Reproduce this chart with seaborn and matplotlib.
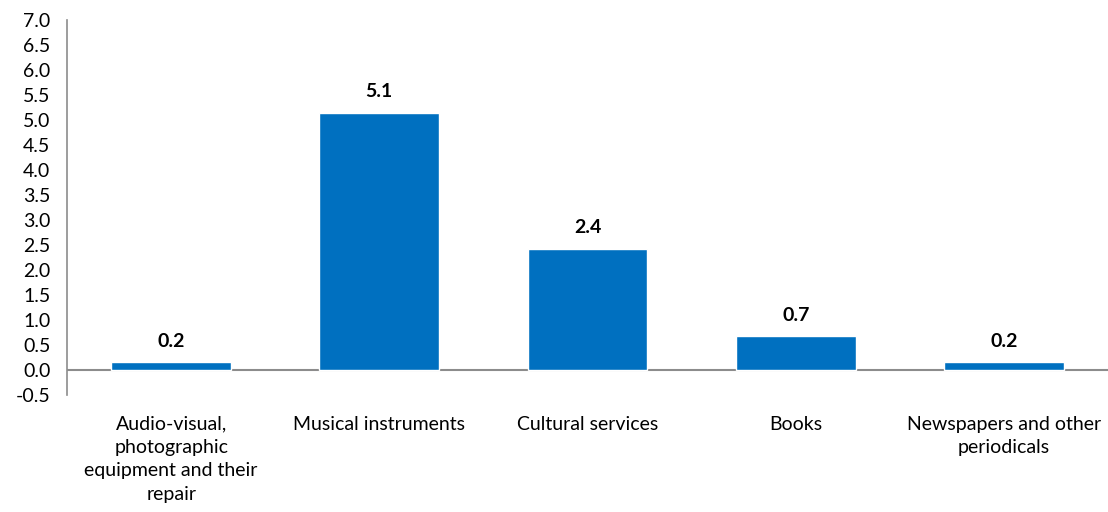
import matplotlib
matplotlib.use("Agg")
import matplotlib.pyplot as plt
import seaborn as sns
import pandas as pd

categories = [
    "Audio-visual,\nphotographic\nequipment and their\nrepair",
    "Musical instruments",
    "Cultural services",
    "Books",
    "Newspapers and other\nperiodicals",
]
values = [0.16, 5.14, 2.42, 0.68, 0.16]
y_ticks = [-0.5, 0.0, 0.5, 1.0, 1.5, 2.0, 2.5, 3.0, 3.5, 4.0, 4.5, 5.0, 5.5, 6.0, 6.5, 7.0]

sns.set_theme(style="white")
plt.rcParams["font.family"] = ["Lato", "DejaVu Sans"]

df = pd.DataFrame({"category": categories, "value": values})

fig = plt.figure(figsize=(11.08, 5.12), dpi=100)
ax = fig.add_axes([0.0605, 0.2285, 0.9395, 0.7325])

sns.barplot(data=df, x="category", y="value", color="#0070C0", width=0.575,
            saturation=1, ax=ax)

for i, v in enumerate(values):
    ax.text(i, v + 0.25, f"{v:.1f}", ha="center", va="bottom",
            fontsize=14, fontweight="bold", color="black")

ax.axhline(0, color="#8c8c8c", linewidth=1.5, zorder=0.5)
ax.set_ylim(-0.5, 7.0)
ax.set_xlim(-0.5, len(categories) - 0.5)
ax.set_yticks(y_ticks)
ax.set_yticklabels([f"{t:.1f}" for t in y_ticks])
ax.set_xlabel("")
ax.set_ylabel("")

for side in ["top", "right", "bottom"]:
    ax.spines[side].set_visible(False)
ax.spines["left"].set_color("#8c8c8c")
ax.spines["left"].set_linewidth(1.2)

ax.tick_params(axis="y", length=0, pad=12, labelsize=14, labelcolor="black")
ax.tick_params(axis="x", length=0, pad=15, labelsize=14, labelcolor="black")
for lbl in ax.get_xticklabels():
    lbl.set_linespacing(1.45)

fig.savefig("out.png", dpi=100)
